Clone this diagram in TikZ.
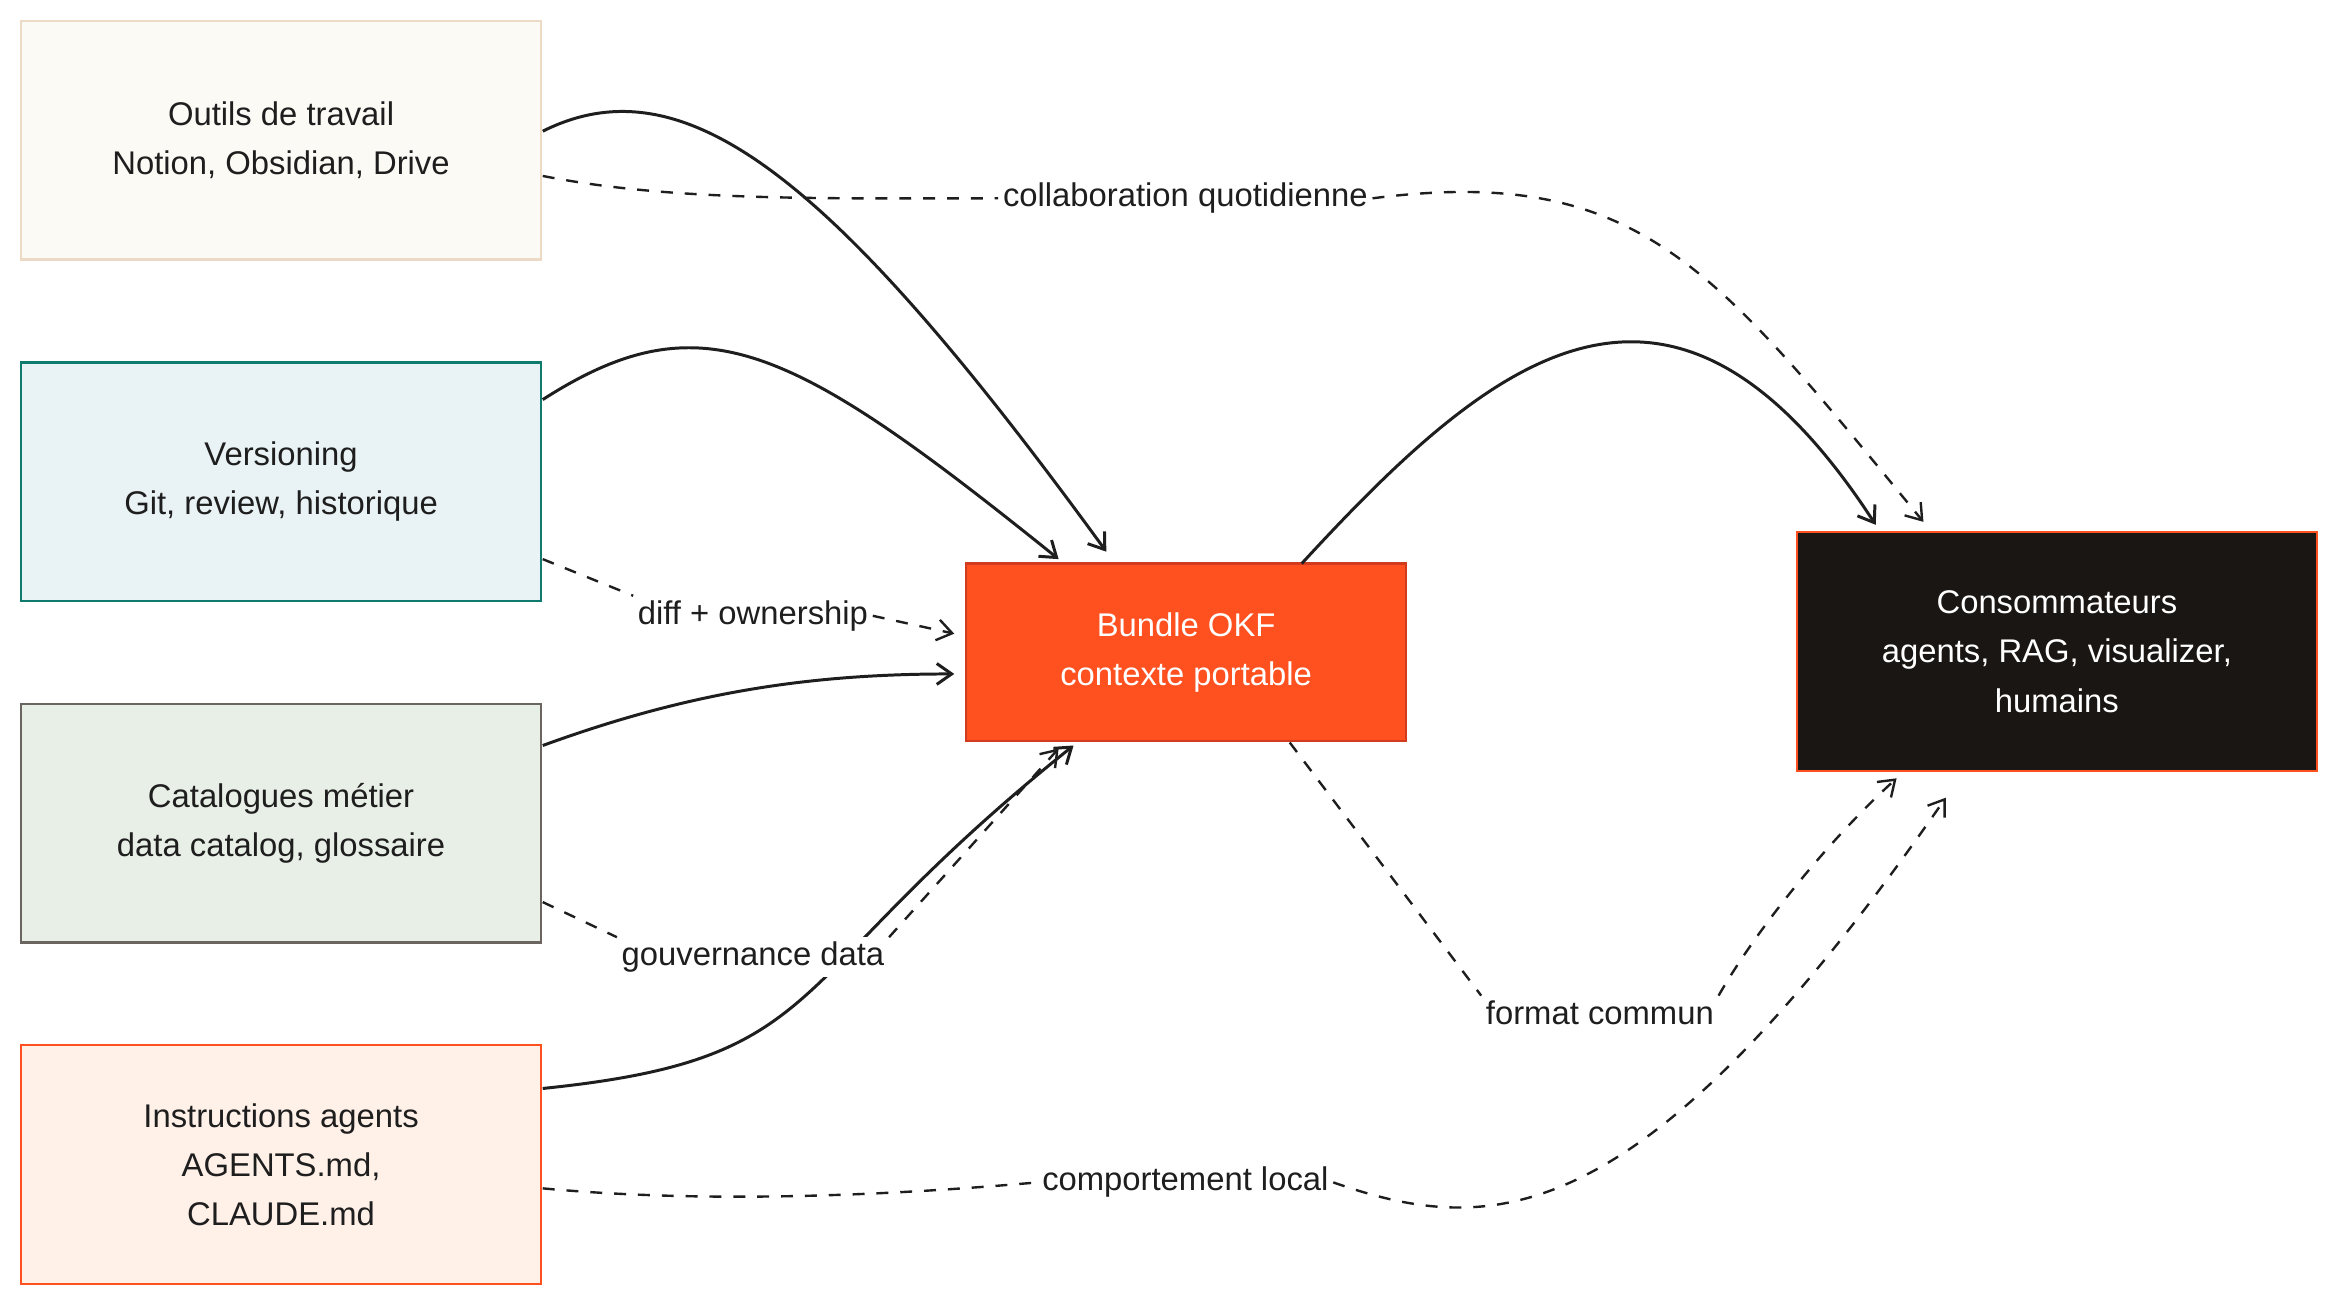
\documentclass[tikz,border=0pt]{standalone}
\usepackage{fontspec}
\setmainfont{Liberation Sans}
\usetikzlibrary{arrows.meta}
\definecolor{ink}{HTML}{1E1E1E}
\definecolor{okf}{HTML}{FF5020}
\begin{document}
\begin{tikzpicture}[x=1pt,y=-1pt,
  box/.style={draw,line width=1.6pt,minimum width=349pt,minimum height=160pt,align=center,font=\fontsize{22}{33}\selectfont,text=ink,inner sep=0pt},
  sol/.style={draw=ink,line width=2pt,-{Straight Barb[length=10pt,width=14pt]}},
  das/.style={draw=ink,line width=1.6pt,dash pattern=on 8pt off 8pt},
  dasa/.style={das,-{Straight Barb[length=10pt,width=14pt]}},
  lab/.style={font=\fontsize{22}{26}\selectfont,text=ink,fill=white,inner sep=3pt}]
\useasboundingbox (0,0) rectangle (1560,872);
\fill[white] (0,0) rectangle (1560,872);
\node[box,draw=brown!30,fill={rgb,255:red,252;green,250;blue,245}] (o) at (188.5,94) {Outils de travail\\Notion, Obsidian, Drive};
\node[box,draw={rgb,255:red,15;green,122;blue,110},fill={rgb,255:red,233;green,242;blue,244}] (v) at (188.5,323) {Versioning\\Git, review, historique};
\node[box,draw={rgb,255:red,107;green,101;blue,96},fill={rgb,255:red,232;green,239;blue,230}] (c) at (188.5,552) {Catalogues métier\\data catalog, glossaire};
\node[box,draw=okf,fill={rgb,255:red,255;green,240;blue,232}] (i) at (188.5,781) {Instructions agents\\AGENTS.md,\\CLAUDE.md};
\node[box,draw={rgb,255:red,210;green,60;blue,30},fill=okf,text=white,minimum width=295pt,minimum height=119pt] (b) at (795.5,437.5) {Bundle OKF\\contexte portable};
\node[box,draw=okf,fill={rgb,255:red,26;green,22;blue,19},text=white] (k) at (1379.5,437) {Consommateurs\\agents, RAG, visualizer,\\humains};
% solid
\draw[sol] (364,88) .. controls (460,40) and (560,120) .. (742,370);
\draw[sol] (364,268) .. controls (470,200) and (530,230) .. (710,375);
\draw[sol] (364,500) .. controls (460,465) and (540,452) .. (640,452);
\draw[sol] (364,730) .. controls (560,710) and (520,660) .. (720,500);
\draw[sol] (873,378) .. controls (1000,240) and (1120,140) .. (1258,352);
% dashed with labels
\node[lab] (l1) at (795,133) {collaboration quotidienne};
\draw[das] (364,118) .. controls (450,135) and (550,133) .. (l1.west);
\draw[dasa] (l1.east) .. controls (1100,110) and (1150,180) .. (1290,350);
\node[lab] (l2) at (505,413) {diff + ownership};
\draw[das] (364,375) -- (l2.north west);
\draw[dasa] (l2.east) -- (640,425);
\node[lab] (l3) at (505,642) {gouvernance data};
\draw[das] (364,605) -- (l3.north west);
\draw[dasa] (l3.north east) -- (710,502);
\node[lab] (l4) at (1073,679) {format commun};
\draw[das] (865,498) -- (l4.north west);
\draw[dasa] (l4.north east) .. controls (1180,620) and (1230,560) .. (1272,522);
\node[lab] (l5) at (795,793) {comportement local};
\draw[das] (364,797) .. controls (450,805) and (560,805) .. (l5.west);
\draw[dasa] (l5.east) .. controls (1000,830) and (1100,830) .. (1305,535);
\end{tikzpicture}
\end{document}
